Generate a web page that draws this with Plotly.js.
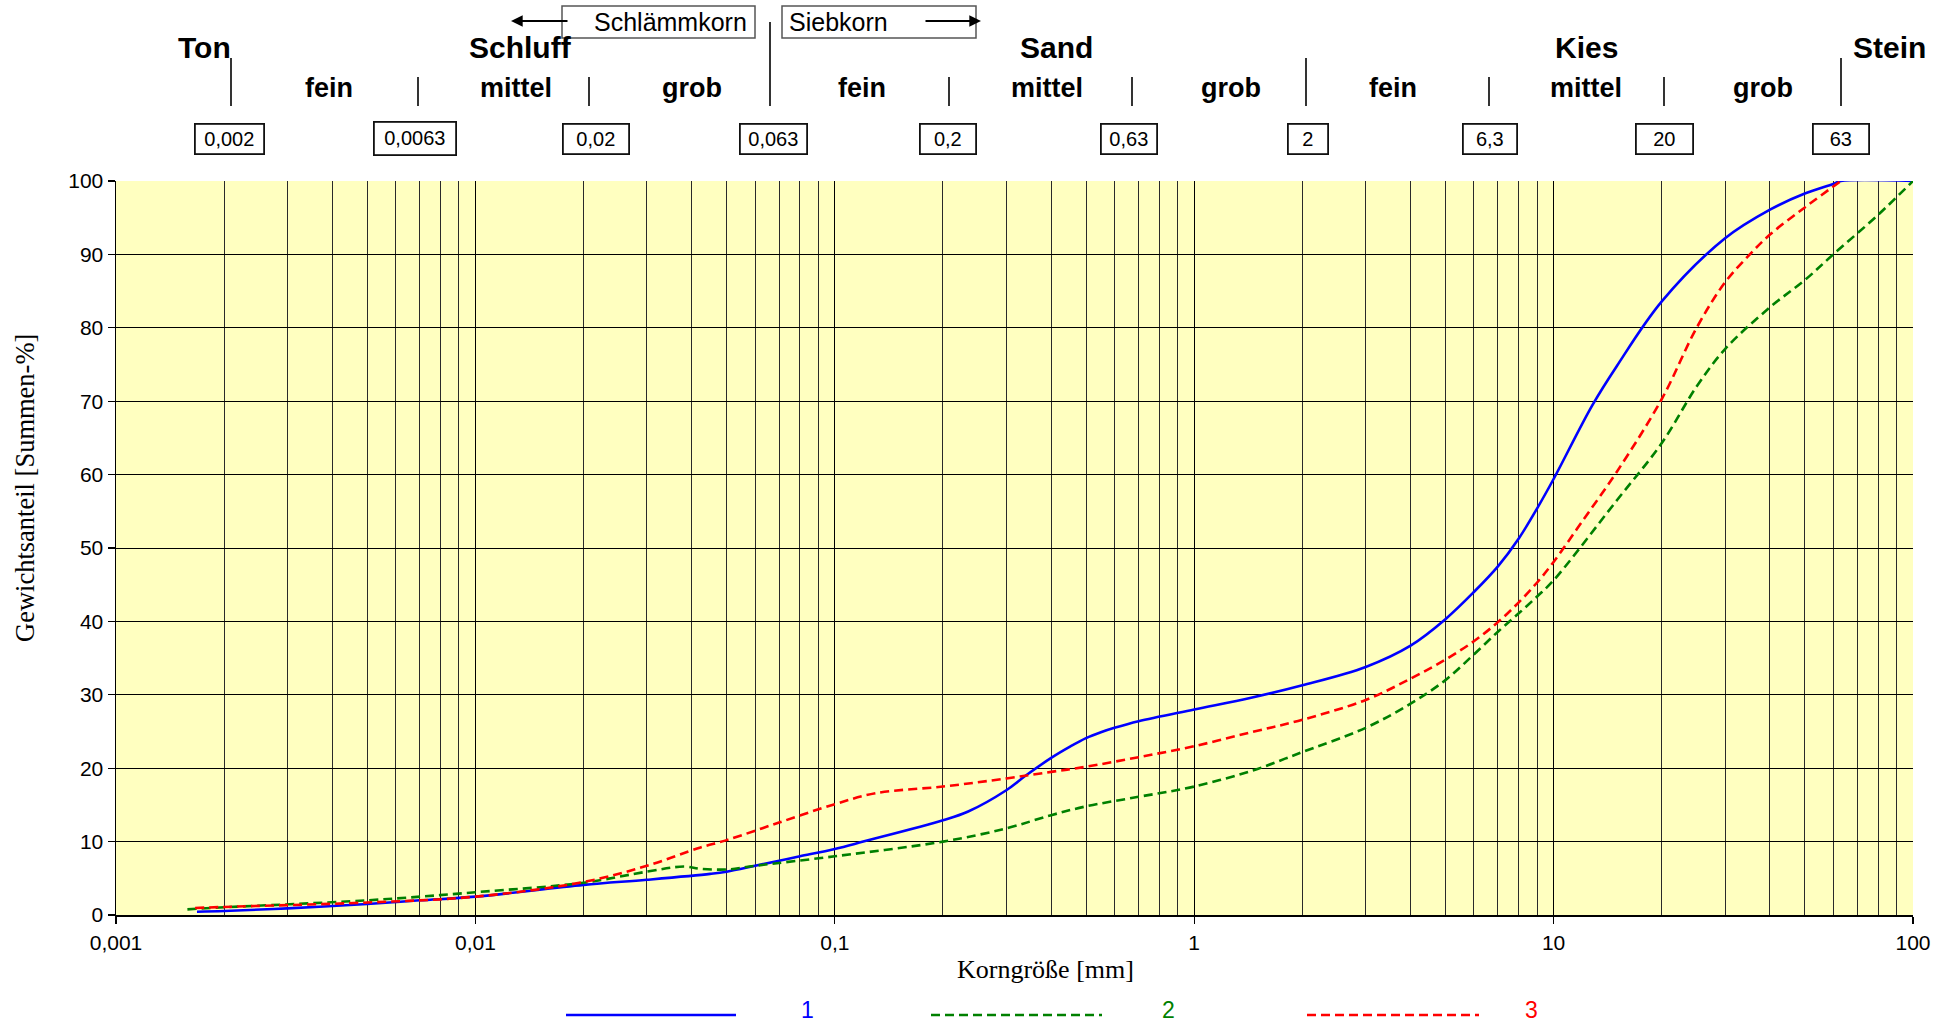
<!DOCTYPE html>
<html>
<head>
<meta charset="utf-8">
<script src="https://cdn.plot.ly/plotly-3.0.1.min.js"></script>
<style>
  html, body { margin: 0; padding: 0; background: #ffffff; }
  #chart { width: 1950px; height: 1025px; }
</style>
</head>
<body>
<div id="chart"></div>
<script>
// ---------------- data ----------------
const seriesNames = ['1', '2', '3'];
const seriesColors = ['#0000ff', '#008000', '#ff0000'];

// Kurve 1 (blau, durchgezogen)
const x1 = [0.00168, 0.002, 0.003, 0.005, 0.007, 0.01, 0.02, 0.03, 0.045, 0.05, 0.06, 0.07, 0.08, 0.1, 0.12, 0.2, 0.235, 0.3, 0.34, 0.4, 0.45, 0.5, 0.55, 0.6, 0.7, 1.0, 1.44, 2, 3, 4, 5, 6, 7, 8, 9, 10, 12.8, 15, 20, 30, 40, 50, 60, 63, 100];
const y1 = [0.45, 0.55, 0.9, 1.5, 2.0, 2.5, 4.1, 4.8, 5.6, 5.9, 6.7, 7.4, 8.0, 9.0, 10.0, 12.9, 14.1, 17.0, 19.0, 21.4, 22.9, 24.1, 24.9, 25.5, 26.4, 28.0, 29.6, 31.3, 33.8, 36.7, 40.3, 44.0, 47.5, 51.3, 55.4, 59.4, 69.4, 74.8, 83.6, 92.2, 96.1, 98.3, 99.6, 100, 100];

// Kurve 2 (grün, gestrichelt)
const x2 = [0.00158, 0.002, 0.005, 0.01, 0.02, 0.03, 0.038, 0.0423, 0.05, 0.06, 0.1, 0.2, 0.3, 0.4, 0.5, 0.7, 1.0, 1.5, 1.79, 2, 3, 4, 5, 6, 7, 8, 9, 10, 15, 20, 25, 30, 40, 50, 60, 80, 100];
const y2 = [0.77, 1.05, 2.0, 3.1, 4.4, 5.9, 6.6, 6.3, 6.2, 6.7, 8.0, 10.0, 11.8, 13.6, 14.8, 16.1, 17.5, 19.9, 21.3, 22.2, 25.5, 28.8, 32.0, 35.5, 38.6, 41.1, 43.4, 45.6, 56.5, 64.3, 72.0, 77.1, 82.8, 86.5, 90.0, 95.4, 100];

// Kurve 3 (rot, gestrichelt)
const x3 = [0.00166, 0.002, 0.005, 0.01, 0.02, 0.03, 0.0423, 0.05, 0.07, 0.1, 0.13, 0.2, 0.3, 0.4, 0.5, 0.7, 1.0, 1.44, 2, 3, 4, 5, 6, 7, 8, 9, 10, 12, 15, 20, 25, 30, 35, 40, 50, 63];
const y3 = [0.95, 1.1, 1.7, 2.5, 4.5, 6.7, 9.2, 10.2, 12.6, 15.1, 16.6, 17.5, 18.6, 19.5, 20.2, 21.5, 23.0, 24.9, 26.6, 29.3, 32.2, 34.8, 37.3, 39.9, 42.6, 45.3, 48.1, 53.6, 60.4, 70.3, 80.0, 86.2, 89.9, 92.7, 96.4, 100];

// axis ticks
const xTickVals = [0.001, 0.01, 0.1, 1, 10, 100];
const xTickText = ['0,001', '0,01', '0,1', '1', '10', '100'];
const yTickVals = [0, 10, 20, 30, 40, 50, 60, 70, 80, 90, 100];

// soil classification header
const mainLabels = ['Ton', 'Schluff', 'Sand', 'Kies', 'Stein'];
const subLabels = ['fein', 'mittel', 'grob', 'fein', 'mittel', 'grob', 'fein', 'mittel', 'grob'];
const boundaryLabels = ['0,002', '0,0063', '0,02', '0,063', '0,2', '0,63', '2', '6,3', '20', '63'];

// ---------------- layout helpers ----------------
const PL = 116, PT = 181, PR = 1913, PB = 915;
const PW = PR - PL, PH = PB - PT;
const px = x => (x - PL) / PW;
const py = y => (PB - y) / PH;

const SANS = '"Liberation Sans", Arial, Helvetica, sans-serif';
const SERIF = '"Liberation Serif", "Times New Roman", Times, serif';

// minor gridline positions 2..9 per decade
const minorVals = [];
for (let e = -3; e < 2; e++) for (let m = 2; m <= 9; m++) minorVals.push(m * Math.pow(10, e));

const traces = [
  {x: x1, y: y1, color: seriesColors[0], dash: 'solid'},
  {x: x2, y: y2, color: seriesColors[1], dash: '9px,5px'},
  {x: x3, y: y3, color: seriesColors[2], dash: '9px,5px'}
].map((s, i) => ({
  type: 'scatter', mode: 'lines', x: s.x, y: s.y, name: seriesNames[i],
  line: {color: s.color, width: 2.6, dash: s.dash, shape: 'spline', smoothing: 1},
  showlegend: false, hoverinfo: 'skip'
}));

const annotations = [];
const shapes = [];

// main header labels
const mainX = [204, 520, 1056, 1586, 1889];
mainLabels.forEach((t, i) => annotations.push({
  xref: 'paper', yref: 'paper', x: px(mainX[i]), y: py(47), text: t, showarrow: false,
  xanchor: 'center', yanchor: 'middle', font: {family: SANS, size: 30, color: '#000', weight: 'bold'}
}));
// sub labels
const subX = [329, 516, 692, 862, 1047, 1231, 1393, 1586, 1763];
subLabels.forEach((t, i) => annotations.push({
  xref: 'paper', yref: 'paper', x: px(subX[i]), y: py(88), text: t, showarrow: false,
  xanchor: 'center', yanchor: 'middle', font: {family: SANS, size: 27, color: '#000', weight: 'bold'}
}));
// divider lines
const divX = [231, 418, 589, 770, 949, 1132, 1306, 1489, 1664, 1841];
const divTop = [58, 77, 77, 22, 77, 77, 58, 77, 77, 58];
divX.forEach((x, i) => shapes.push({
  type: 'line', xref: 'paper', yref: 'paper', x0: px(x), x1: px(x), y0: py(divTop[i]), y1: py(106),
  line: {color: '#000', width: 1.6}
}));
// boundary boxes
const boxX = [229, 415, 596, 773, 948, 1129, 1308, 1490, 1664, 1841];
const boxW = [70, 83, 67, 68, 57, 57, 41, 55, 58, 57];
boundaryLabels.forEach((t, i) => annotations.push({
  xref: 'paper', yref: 'paper', x: px(boxX[i]), y: py(138.5), text: t, showarrow: false,
  xanchor: 'center', yanchor: 'middle', width: boxW[i] - 3, height: (i === 1 ? 31 : 28),
  borderpad: 0, bordercolor: '#111', borderwidth: 1.8, bgcolor: '#fff', align: 'center', valign: 'middle',
  font: {family: SANS, size: 20, color: '#000'}
}));

// Schlämmkorn / Siebkorn boxes
shapes.push({type: 'rect', xref: 'paper', yref: 'paper', x0: px(562), x1: px(755), y0: py(38), y1: py(6),
  line: {color: '#555', width: 1.5}});
shapes.push({type: 'rect', xref: 'paper', yref: 'paper', x0: px(782), x1: px(976), y0: py(38), y1: py(6),
  line: {color: '#555', width: 1.5}});
annotations.push({xref: 'paper', yref: 'paper', x: px(749), y: py(22), text: 'Schlämmkorn', showarrow: false,
  xanchor: 'right', yanchor: 'middle', font: {family: SANS, size: 25, color: '#000'}});
annotations.push({xref: 'paper', yref: 'paper', x: px(787), y: py(22), text: 'Siebkorn', showarrow: false,
  xanchor: 'left', yanchor: 'middle', font: {family: SANS, size: 25, color: '#000'}});
// arrows
annotations.push({xref: 'paper', yref: 'paper', x: px(511), y: py(21), ax: 58, ay: 0, text: '',
  showarrow: true, arrowhead: 2, arrowsize: 1.3, arrowwidth: 1.8, arrowcolor: '#000', standoff: 0, startstandoff: 0});
annotations.push({xref: 'paper', yref: 'paper', x: px(981), y: py(21), ax: -57, ay: 0, text: '',
  showarrow: true, arrowhead: 2, arrowsize: 1.3, arrowwidth: 1.8, arrowcolor: '#000', standoff: 0, startstandoff: 0});

// axis titles
annotations.push({xref: 'paper', yref: 'paper', x: px(25), y: py(488), text: 'Gewichtsanteil [Summen-%]',
  textangle: -90, showarrow: false, xanchor: 'center', yanchor: 'middle',
  font: {family: SERIF, size: 26.5, color: '#000'}});
annotations.push({xref: 'paper', yref: 'paper', x: px(1045), y: py(969), text: 'Korngröße [mm]',
  showarrow: false, xanchor: 'center', yanchor: 'middle',
  font: {family: SERIF, size: 26, color: '#000'}});

// legend (drawn manually: long sample lines, coloured labels)
const legLineX = [[566, 736], [931, 1102], [1307, 1479]];
const legTextX = [807, 1168, 1531];
const legDash = ['solid', '9px,5px', '9px,5px'];
seriesNames.forEach((n, i) => {
  shapes.push({type: 'line', xref: 'paper', yref: 'paper', x0: px(legLineX[i][0]), x1: px(legLineX[i][1]),
    y0: py(1015), y1: py(1015), line: {color: seriesColors[i], width: 2.6, dash: legDash[i]}});
  annotations.push({xref: 'paper', yref: 'paper', x: px(legTextX[i]), y: py(1010), text: n, showarrow: false,
    xanchor: 'center', yanchor: 'middle', font: {family: SANS, size: 23, color: seriesColors[i]}});
});

const layout = {
  width: 1950, height: 1025,
  margin: {l: PL, r: 1950 - PR, t: PT, b: 1025 - PB, pad: 0},
  paper_bgcolor: '#ffffff',
  plot_bgcolor: '#ffffc0',
  showlegend: false,
  xaxis: {
    type: 'log', range: [-3, 2], fixedrange: true,
    tickmode: 'array', tickvals: xTickVals, ticktext: xTickText,
    ticks: 'outside', ticklen: 7, tickwidth: 1.2, tickcolor: '#000',
    showgrid: true, gridcolor: '#000', gridwidth: 1,
    minor: {tickmode: 'array', tickvals: minorVals, ticks: '', showgrid: true, gridcolor: '#2a2a2a', gridwidth: 1},
    showline: true, linecolor: '#000', linewidth: 1.5, zeroline: false,
    ticklabelstandoff: 1,
    tickfont: {family: SANS, size: 21, color: '#000'}
  },
  yaxis: {
    range: [0, 100], fixedrange: true,
    tickmode: 'array', tickvals: yTickVals,
    ticks: 'outside', ticklen: 7, tickwidth: 1.2, tickcolor: '#000',
    showgrid: true, gridcolor: '#000', gridwidth: 1,
    showline: true, linecolor: '#000', linewidth: 1.5, zeroline: false,
    tickfont: {family: SANS, size: 21, color: '#000'}
  },
  shapes: shapes,
  annotations: annotations
};

Plotly.newPlot('chart', traces, layout, {displayModeBar: false, staticPlot: true});
</script>
</body>
</html>
